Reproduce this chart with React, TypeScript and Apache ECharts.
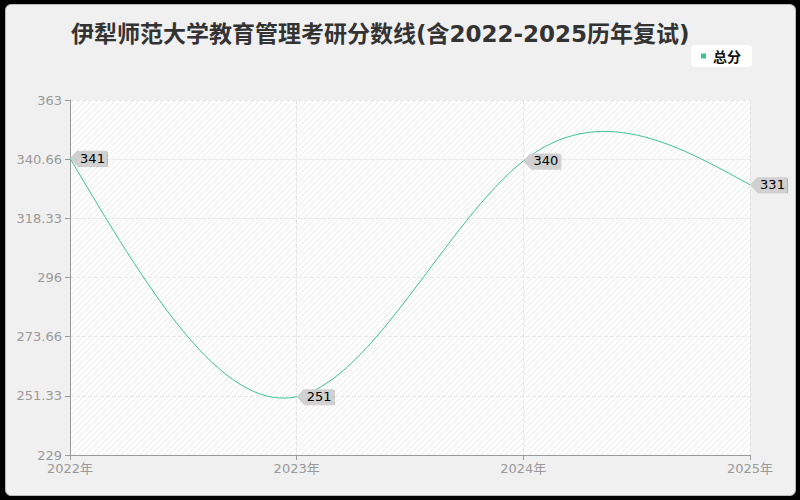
import { useEffect, useRef } from "react";
import * as echarts from "echarts";

const titleText = "伊犁师范大学教育管理考研分数线(含2022-2025历年复试)";
const years = ["2022年", "2023年", "2024年", "2025年"];
const totalScores = [341, 251, 340, 331];
const seriesName = "总分";
const yMin = 229;
const yMax = 363;

const lineColor = "#3cc497";
const latin = "'DejaVu Sans', 'Noto Sans CJK SC', sans-serif";
const cjk = "'Noto Sans CJK SC', 'Noto Sans', sans-serif";

// small diagonal hatch for the plot background
function makeHatch(): string {
  const c = document.createElement("canvas");
  c.width = 6;
  c.height = 6;
  const ctx = c.getContext("2d");
  if (!ctx) return "";
  ctx.fillStyle = "#fdfdfd";
  ctx.fillRect(0, 0, 6, 6);
  ctx.strokeStyle = "#ececec";
  ctx.lineWidth = 1;
  ctx.beginPath();
  ctx.moveTo(0, 6);
  ctx.lineTo(6, 0);
  ctx.moveTo(-1, 1);
  ctx.lineTo(1, -1);
  ctx.moveTo(5, 7);
  ctx.lineTo(7, 5);
  ctx.stroke();
  return c.toDataURL();
}

// natural cubic spline through pixel points -> svg path (bezier segments)
function splinePath(pts: number[][]): string {
  const n = pts.length;
  const y = pts.map((p) => p[1]);
  const M = new Array(n).fill(0);
  if (n > 2) {
    const m = n - 2;
    const a = new Array(m).fill(1);
    const b = new Array(m).fill(4);
    const c = new Array(m).fill(1);
    const d = [];
    for (let i = 1; i < n - 1; i++) d.push(6 * (y[i - 1] - 2 * y[i] + y[i + 1]));
    for (let i = 1; i < m; i++) {
      const w = a[i] / b[i - 1];
      b[i] -= w * c[i - 1];
      d[i] -= w * d[i - 1];
    }
    const sol = new Array(m).fill(0);
    sol[m - 1] = d[m - 1] / b[m - 1];
    for (let i = m - 2; i >= 0; i--) sol[i] = (d[i] - c[i] * sol[i + 1]) / b[i];
    for (let i = 0; i < m; i++) M[i + 1] = sol[i];
  }
  let s = `M${pts[0][0]},${pts[0][1]}`;
  for (let i = 0; i < n - 1; i++) {
    const dy = y[i + 1] - y[i];
    const d0 = dy - (2 * M[i] + M[i + 1]) / 6;
    const d1 = dy + (M[i] + 2 * M[i + 1]) / 6;
    const dx = pts[i + 1][0] - pts[i][0];
    s += ` C${pts[i][0] + dx / 3},${y[i] + d0 / 3} ${pts[i + 1][0] - dx / 3},${y[i + 1] - d1 / 3} ${pts[i + 1][0]},${y[i + 1]}`;
  }
  return s;
}

const tagPath = "path://M0,7.5 L7,0 L37,0 L37,15 L7,15 Z";

export default function App() {
  const ref = useRef<HTMLDivElement>(null);

  useEffect(() => {
    if (!ref.current) return;
    const chart = echarts.init(ref.current, null, { renderer: "svg" });
    const hatch = makeHatch();

    chart.setOption({
      animation: false,
      backgroundColor: "transparent",
      title: {
        text: titleText,
        left: 66,
        top: 17,
        textStyle: { color: "#333", fontSize: 23, fontWeight: "bold", fontFamily: latin },
      },
      legend: {
        data: [seriesName],
        right: 48,
        top: 45,
        backgroundColor: "#fff",
        borderRadius: 4,
        padding: [4, 11, 4, 10],
        itemWidth: 5,
        itemHeight: 5,
        itemGap: 4,
        icon: "rect",
        textStyle: { color: "#111", fontSize: 14, fontWeight: "bold", fontFamily: cjk, padding: [0, 0, 0, 2] },
      },
      grid: {
        left: 70,
        right: 50,
        top: 100,
        bottom: 45,
        show: true,
        borderWidth: 0,
        backgroundColor: hatch ? { image: hatch, repeat: "repeat" } : "#fcfcfc",
      },
      xAxis: {
        type: "category",
        data: years,
        boundaryGap: false,
        axisLine: { lineStyle: { color: "#999" } },
        axisTick: { show: true, alignWithLabel: true, lineStyle: { color: "#999" } },
        axisLabel: { color: "#999", fontSize: 13, lineHeight: 13, fontFamily: latin, margin: 7 },
        splitLine: { show: true, lineStyle: { color: "#e4e4e4", type: "dashed" } },
      },
      yAxis: {
        type: "value",
        min: yMin,
        max: yMax,
        interval: (yMax - yMin) / 6,
        axisLine: { show: true, lineStyle: { color: "#999" } },
        axisTick: { show: true, lineStyle: { color: "#999" } },
        axisLabel: {
          color: "#999",
          fontSize: 13,
          lineHeight: 13,
          fontFamily: latin,
          formatter: (v: number) => String(Math.floor(v * 100 + 1e-6) / 100),
        },
        splitLine: { show: true, lineStyle: { color: "#e8e8e8", type: "dashed" } },
      },
      series: [
        {
          name: seriesName,
          type: "custom",
          data: totalScores.map((v, i) => [i, v]),
          itemStyle: { color: lineColor },
          renderItem: (params: any, api: any) => {
            if (params.dataIndex !== 0) return null;
            const pts = totalScores.map((v, i) => api.coord([i, v]));
            return {
              type: "path",
              shape: { pathData: splinePath(pts) },
              style: { fill: null, stroke: lineColor, lineWidth: 1 },
            };
          },
          markPoint: {
            symbol: tagPath,
            symbolSize: [37, 15],
            symbolOffset: [18.5, 0],
            itemStyle: {
              color: "#d0d0d0",
              shadowColor: "rgba(0,0,0,0.25)",
              shadowOffsetX: 1,
              shadowOffsetY: 1,
              shadowBlur: 1,
            },
            label: {
              show: true,
              color: "#000",
              fontSize: 13,
              fontFamily: latin,
              offset: [4, 0],
              formatter: (p: any) => String(p.value),
            },
            data: totalScores.map((v, i) => ({ coord: [i, v], value: v })),
          },
        },
      ],
    } as echarts.EChartsOption);

    return () => chart.dispose();
  }, []);

  return (
    <div style={{ position: "fixed", left: 0, top: 0, width: 800, height: 500, background: "#000" }}>
      <div
        style={{
          position: "absolute",
          left: 5,
          top: 4,
          width: 789,
          height: 490,
          border: "1px solid #b8b8b8",
          borderRadius: 6,
          background: "#f0f0f0",
        }}
      />
      <div ref={ref} style={{ position: "absolute", left: 0, top: 0, width: 800, height: 500 }} />
    </div>
  );
}
